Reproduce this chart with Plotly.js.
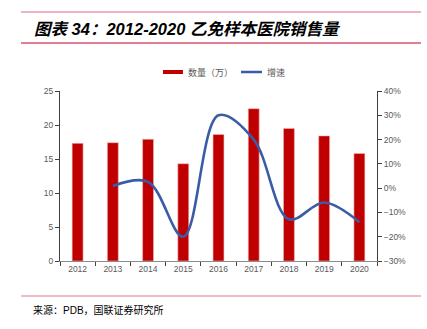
<!DOCTYPE html>
<html>
<head>
<meta charset="utf-8">
<script src="https://cdn.plot.ly/plotly-3.0.1.min.js"></script>
<style>
html,body{margin:0;padding:0;background:#fff;}
#chart{width:427px;height:329px;}
</style>
</head>
<body>
<div id="chart"></div>
<script>
var years = ['2012','2013','2014','2015','2016','2017','2018','2019','2020'];
var volume = [17.3, 17.4, 17.9, 14.3, 18.6, 22.4, 19.5, 18.4, 15.8];
var growth = [null, 0.9, 2.6, -20.0, 30.0, 20.0, -12.8, -5.9, -14.0];
var leftTicks = [0, 5, 10, 15, 20, 25];
var rightTicks = [-30, -20, -10, 0, 10, 20, 30, 40];
var rightTickText = ['\u221230%', '\u221220%', '\u221210%', '0%', '10%', '20%', '30%', '40%'];
var titleText = '图表 34：2012-2020 乙免样本医院销售量';
var sourceText = '来源：PDB，国联证券研究所';
var seriesNames = ['数量（万）', '增速'];

var cjk = '"Liberation Sans", "Noto Sans CJK SC", Arial, sans-serif';
var tickFont = {family: '"Liberation Sans", Arial, sans-serif', size: 8.5, color: '#595959'};

var traces = [
  {
    type: 'bar', x: years, y: volume, name: seriesNames[0],
    marker: {color: '#c00000', line: {color: '#f2b8b8', width: 0.6}},
    width: 0.31, yaxis: 'y', showlegend: false, hoverinfo: 'skip'
  },
  {
    type: 'scatter', mode: 'lines', x: years, y: growth, name: seriesNames[1],
    line: {color: '#3a5ca6', width: 2.6, shape: 'spline', smoothing: 1},
    yaxis: 'y2', connectgaps: false, showlegend: false, hoverinfo: 'skip'
  }
];

var L = 60, R = 377, T = 91, B = 261;
function px(x){ return (x - L) / (R - L); }
function py(y){ return (B - y) / (B - T); }

var layout = {
  width: 427, height: 329,
  margin: {l: L, r: 427 - R, t: T, b: 329 - B, pad: 0},
  paper_bgcolor: '#ffffff', plot_bgcolor: '#ffffff',
  showlegend: false,
  xaxis: {
    type: 'category', showgrid: false, zeroline: false,
    showline: true, linecolor: '#8c8c8c', linewidth: 1,
    ticks: 'outside', tickson: 'boundaries', ticklen: 4, tickcolor: '#404040',
    tickfont: tickFont, fixedrange: true
  },
  yaxis: {
    range: [0, 25], tickvals: leftTicks, showgrid: false, zeroline: false,
    showline: true, linecolor: '#404040', linewidth: 1,
    ticks: 'outside', ticklen: 4, tickcolor: '#404040',
    tickfont: tickFont, fixedrange: true
  },
  yaxis2: {
    range: [-30, 40], tickmode: 'array', tickvals: rightTicks, ticktext: rightTickText,
    overlaying: 'y', side: 'right', showgrid: false, zeroline: false,
    showline: true, linecolor: '#404040', linewidth: 1,
    ticks: 'outside', ticklen: 4, tickcolor: '#404040',
    tickfont: tickFont, fixedrange: true
  },
  shapes: [
    {type: 'line', xref: 'paper', yref: 'paper', x0: px(21), x1: px(421), y0: py(12), y1: py(12), line: {color: '#e79aab', width: 1.5}},
    {type: 'line', xref: 'paper', yref: 'paper', x0: px(21), x1: px(421), y0: py(43), y1: py(43), line: {color: '#d9536c', width: 1.5}},
    {type: 'line', xref: 'paper', yref: 'paper', x0: px(21), x1: px(421), y0: py(296), y1: py(296), line: {color: '#e07a8d', width: 1.2}},
    {type: 'line', xref: 'paper', yref: 'paper', x0: px(163), x1: px(183), y0: py(72), y1: py(72), line: {color: '#c00000', width: 4}},
    {type: 'line', xref: 'paper', yref: 'paper', x0: px(241), x1: px(262), y0: py(72), y1: py(72), line: {color: '#3a5ca6', width: 2.5}}
  ],
  annotations: [
    {xref: 'paper', yref: 'paper', x: px(32), y: py(29), xanchor: 'left', yanchor: 'middle', showarrow: false,
     text: '<b><i>' + titleText + '</i></b>', font: {family: cjk, size: 16.5, color: '#000000'}},
    {xref: 'paper', yref: 'paper', x: px(31), y: py(310), xanchor: 'left', yanchor: 'middle', showarrow: false,
     text: sourceText, font: {family: cjk, size: 10, color: '#000000'}},
    {xref: 'paper', yref: 'paper', x: px(186), y: py(72), xanchor: 'left', yanchor: 'middle', showarrow: false,
     text: seriesNames[0], font: {family: cjk, size: 9, color: '#595959'}},
    {xref: 'paper', yref: 'paper', x: px(265), y: py(72), xanchor: 'left', yanchor: 'middle', showarrow: false,
     text: seriesNames[1], font: {family: cjk, size: 9, color: '#595959'}}
  ]
};

Plotly.newPlot('chart', traces, layout, {displayModeBar: false, staticPlot: true});
</script>
</body>
</html>
